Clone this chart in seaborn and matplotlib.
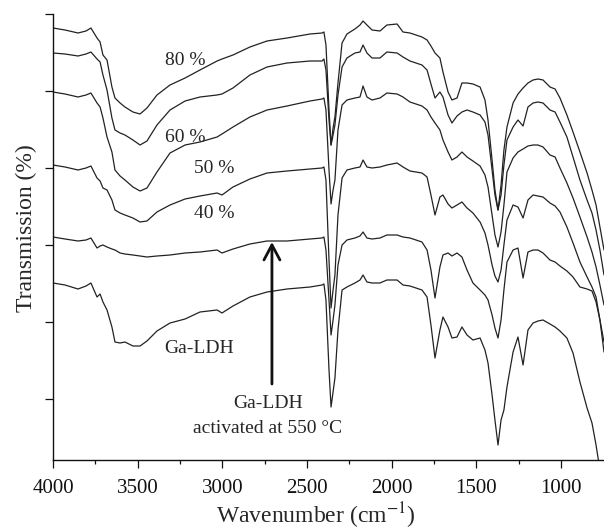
import numpy as np
import pandas as pd
import matplotlib
matplotlib.use("Agg")
import matplotlib.pyplot as plt
import seaborn as sns

# wavenumber grid (cm-1)
wavenumber = [4000, 3929, 3852, 3805, 3776, 3740, 3722, 3705, 3681, 3652, 3634, 3604, 3575,
              3528, 3486, 3445, 3386, 3309, 3220, 3132, 3031, 3002, 2937, 2837, 2736, 2618,
              2482, 2411, 2400, 2388, 2370, 2358, 2346, 2335, 2317, 2293, 2264, 2217, 2187,
              2169, 2146, 2116, 2069, 2028, 1968, 1933, 1892, 1821, 1791, 1768, 1744, 1715,
              1697, 1667, 1644, 1614, 1585, 1555, 1520, 1478, 1449, 1431, 1407, 1390, 1372,
              1354, 1337, 1319, 1283, 1254, 1224, 1195, 1165, 1136, 1106, 1065, 1035, 1006,
              965, 929, 888, 846, 817, 793, 770, 746]

# transmission (a.u., stacked spectra)
t_80 = [432, 430, 427, 429, 432, 422, 418, 405, 400, 373, 362, 357, 353, 348, 346, 352, 365,
        375, 382, 390, 399, 401, 405, 413, 419, 422, 426, 427, 428, 415, 350, 315, 332, 343,
        377, 417, 426, 431, 435, 439, 435, 430, 429, 435, 436, 428, 427, 423, 420, 414, 407,
        402, 388, 368, 360, 362, 377, 377, 376, 373, 360, 340, 300, 270, 250, 275, 310, 333,
        357, 366, 372, 377, 380, 381, 380, 373, 371, 362, 345, 328, 308, 287, 270, 255, 233, 210]
t_60 = [407, 406, 404, 406, 408, 401, 398, 385, 370, 342, 330, 327, 325, 320, 315, 319, 335,
        350, 359, 363, 365, 366, 372, 385, 393, 397, 399, 399, 401, 390, 340, 315, 325, 335,
        365, 393, 402, 407, 408, 415, 407, 402, 402, 408, 407, 403, 399, 395, 390, 376, 362,
        368, 363, 345, 337, 344, 348, 350, 348, 345, 338, 325, 290, 265, 250, 265, 295, 320,
        333, 340, 334, 353, 357, 358, 357, 350, 348, 338, 323, 303, 280, 260, 247, 230, 210, 185]
t_50 = [368, 366, 363, 365, 367, 357, 353, 342, 323, 308, 290, 284, 280, 273, 269, 272, 288,
        307, 315, 318, 323, 326, 333, 343, 350, 354, 359, 361, 362, 350, 290, 256, 270, 280,
        330, 355, 360, 362, 363, 374, 363, 360, 362, 367, 366, 363, 358, 354, 350, 343, 337,
        330, 320, 308, 300, 303, 308, 303, 299, 294, 285, 273, 245, 225, 213, 228, 255, 288,
        302, 308, 311, 314, 315, 315, 313, 305, 303, 292, 277, 262, 243, 223, 208, 193, 175, 155]
t_40 = [295, 293, 290, 292, 294, 282, 279, 272, 270, 260, 250, 247, 245, 242, 238, 239, 248,
        255, 261, 264, 267, 265, 273, 281, 287, 289, 291, 292, 293, 280, 200, 152, 170, 185,
        245, 282, 290, 292, 293, 300, 293, 292, 293, 295, 297, 293, 289, 287, 283, 265, 245,
        263, 265, 256, 252, 255, 258, 252, 247, 238, 227, 215, 195, 184, 178, 190, 215, 240,
        255, 253, 242, 260, 265, 264, 263, 257, 254, 248, 233, 217, 198, 183, 173, 163, 140, 108]
t_act = [223, 221, 219, 220, 222, 212, 214, 215, 213, 211, 210, 207, 206, 205, 204, 203, 204,
         205, 207, 208, 210, 207, 211, 216, 219, 219, 221, 222, 223, 210, 160, 125, 140, 155,
         195, 215, 220, 222, 224, 228, 222, 221, 222, 225, 225, 223, 222, 218, 210, 190, 162,
         193, 205, 207, 204, 207, 203, 190, 177, 170, 165, 160, 145, 132, 122, 140, 170, 198,
         210, 212, 182, 208, 210, 210, 207, 200, 198, 194, 189, 183, 173, 171, 169, 158, 140, 118]
t_ldh = [177, 175, 171, 174, 177, 163, 166, 158, 150, 133, 118, 117, 118, 114, 114, 119, 129,
         137, 141, 148, 150, 147, 154, 163, 168, 171, 173, 175, 176, 160, 90, 53, 68, 82,
         130, 170, 173, 177, 180, 185, 178, 177, 177, 180, 180, 175, 174, 170, 163, 135, 102,
         130, 143, 133, 122, 123, 133, 125, 120, 122, 110, 97, 65, 40, 15, 40, 50, 73,
         108, 123, 95, 130, 137, 139, 140, 136, 133, 129, 122, 107, 78, 52, 37, 15, -10, -30]

samples = ["80 %", "60 %", "50 %", "40 %", "Ga-LDH activated at 550 °C", "Ga-LDH"]
series = [t_80, t_60, t_50, t_40, t_act, t_ldh]

frames = []
for name, vals in zip(samples, series):
    frames.append(pd.DataFrame({"Wavenumber": wavenumber, "Transmission": vals, "Sample": name}))
df = pd.concat(frames, ignore_index=True)

sns.set_style("ticks")
plt.rcParams["font.family"] = ["Liberation Serif", "DejaVu Serif"]
plt.rcParams["mathtext.fontset"] = "stix"

fig = plt.figure(figsize=(6.04, 5.31), dpi=100)
ax = fig.add_axes([53 / 604, 71 / 531, 551 / 604, 446 / 531])

sns.lineplot(data=df, x="Wavenumber", y="Transmission", hue="Sample", estimator=None,
             palette=["#222222"] * 6, linewidth=0.9, legend=False, sort=False, ax=ax)

ax.set_xlim(4000, 746)
ax.set_ylim(0, 446)
ax.set_xticks(np.arange(4000, 999, -500))
ax.set_xticks(np.arange(3750, 1000, -500), minor=True)
ax.set_yticks(446 - 76.9 * np.arange(6))
ax.tick_params(axis="both", which="major", direction="out", length=6, width=0.9,
               labelsize=15, pad=8, colors="#111111")
ax.tick_params(axis="x", which="minor", direction="out", length=3, width=0.9, colors="#111111")
ax.tick_params(axis="y", labelleft=False)
ax.set_xlabel("")
ax.set_ylabel("")
sns.despine(ax=ax)
for s in ["left", "bottom"]:
    ax.spines[s].set_linewidth(1.0)
    ax.spines[s].set_color("#111111")

# curve labels
ax.text(3220, 395, "80 %", fontsize=14, ha="center", va="baseline")
ax.text(3220, 318, "60 %", fontsize=14, ha="center", va="baseline")
ax.text(3049, 287, "50 %", fontsize=14, ha="center", va="baseline")
ax.text(3049, 242, "40 %", fontsize=14, ha="center", va="baseline")
ax.text(3138, 107, "Ga-LDH", fontsize=14, ha="center", va="baseline")
ax.text(2730, 52, "Ga-LDH", fontsize=14, ha="center", va="baseline")
ax.text(2730, 27, "activated at 550 °C", fontsize=14, ha="center", va="baseline")
ax.annotate("", xy=(2707, 218), xytext=(2707, 76),
            arrowprops=dict(arrowstyle="->,head_length=0.6,head_width=0.32", lw=2,
                            color="#111111", mutation_scale=18, shrinkA=0, shrinkB=0))

fig.text(316 / 604, 1 - 523 / 531, r"Wavenumber (cm$^{-1}$)", fontsize=17,
         ha="center", va="baseline")
fig.text(32 / 604, 1 - 228 / 531, "Transmission (%)", fontsize=17, rotation=90,
         rotation_mode="anchor", ha="center", va="baseline")

fig.savefig("out.png", dpi=100)
